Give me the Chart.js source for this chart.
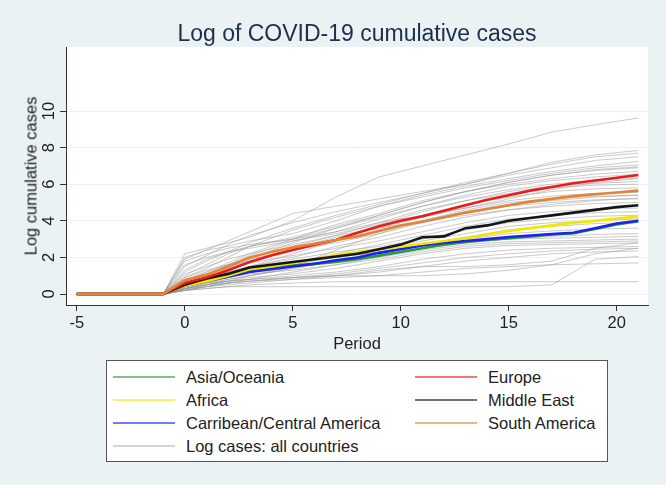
<!DOCTYPE html>
<html>
<head>
<meta charset="utf-8">
<script src="https://cdn.jsdelivr.net/npm/chart.js@4.4.1/dist/chart.umd.min.js"></script>
<style>
  html, body { margin: 0; padding: 0; background: #eaf2f3; }
  #wrap { position: relative; width: 666px; height: 485px; font-family: "Liberation Sans", Arial, sans-serif; color: #222; }
  #c { position: absolute; left: 0; top: 0; }
  .txt { position: absolute; white-space: nowrap; }
  #title { left: 357px; top: 33px; transform: translate(-50%, -50%); font-size: 23px; color: #1e2f4b; }
  #ytitle { left: 31px; top: 176px; transform: translate(-50%, -50%) rotate(-90deg); font-size: 16.5px; }
  #xtitle { left: 357px; top: 343px; transform: translate(-50%, -50%); font-size: 16.5px; }
  #legend { position: absolute; left: 106px; top: 360px; width: 500px; height: 100px; background: #fff; border: 1.5px solid #555; }
  .sw { position: absolute; height: 2px; width: 62px; opacity: 0.6; }
  .lt { position: absolute; font-size: 16.5px; transform: translateY(-50%); }
</style>
</head>
<body>
<div id="wrap">
  <canvas id="c" width="666" height="485"></canvas>
  <div id="title" class="txt">Log of COVID-19 cumulative cases</div>
  <div id="ytitle" class="txt">Log cumulative cases</div>
  <div id="xtitle" class="txt">Period</div>
  <div id="legend"></div>
</div>
<script>
// Periodos (eje X) para las series regionales
const periods = [-5, -4, -3, -2, -1, 0, 1, 2, 3, 4, 5, 6, 7, 8, 9, 10, 11, 12, 13, 14, 15, 16, 17, 18, 19, 20, 21];

// Log de casos acumulados por región
const asiaOceania = [0, 0, 0, 0, 0, 0.5, 0.75, 1.0, 1.3, 1.45, 1.55, 1.65, 1.75, 1.9, 2.1, 2.3, 2.5, 2.7, 2.85, 2.95, 3.05, 3.15, 3.25, 3.32, 3.55, 3.8, 3.98];
const africa = [0, 0, 0, 0, 0, 0.45, 0.7, 1.0, 1.35, 1.5, 1.7, 1.9, 2.15, 2.3, 2.45, 2.6, 2.75, 2.9, 3.05, 3.25, 3.45, 3.6, 3.75, 3.9, 4.0, 4.12, 4.23];
const carribean = [0, 0, 0, 0, 0, 0.45, 0.7, 0.95, 1.2, 1.35, 1.5, 1.65, 1.85, 2.0, 2.25, 2.45, 2.65, 2.8, 2.9, 3.0, 3.12, 3.2, 3.28, 3.35, 3.6, 3.85, 4.0];
const europe = [0, 0, 0, 0, 0, 0.6, 0.9, 1.3, 1.75, 2.1, 2.4, 2.7, 2.95, 3.35, 3.7, 4.0, 4.25, 4.55, 4.85, 5.15, 5.4, 5.65, 5.85, 6.05, 6.2, 6.35, 6.5];
const middleEast = [0, 0, 0, 0, 0, 0.5, 0.85, 1.1, 1.45, 1.6, 1.75, 1.9, 2.05, 2.2, 2.45, 2.7, 3.1, 3.15, 3.6, 3.75, 4.0, 4.15, 4.3, 4.45, 4.6, 4.75, 4.85];
const southAmerica = [0, 0, 0, 0, 0, 0.75, 1.05, 1.5, 2.0, 2.3, 2.55, 2.75, 2.95, 3.15, 3.45, 3.75, 3.95, 4.2, 4.45, 4.65, 4.85, 5.05, 5.2, 5.35, 5.45, 5.55, 5.65];

const countryPeriods = [-5, -1, 0, 1, 2, 3, 5, 7, 9, 11, 13, 15, 17, 19, 21];
const allCountries = [
  [0, 0, 2.2, 2.5, 2.8, 3.1, 4.0, 5.3, 6.4, 7.0, 7.6, 8.2, 8.85, 9.25, 9.62],
  [0, 0, 1.9, 2.4, 2.9, 3.4, 4.4, 4.8, 5.2, 5.6, 6.0, 6.6, 7.2, 7.6, 7.85],
  [0, 0, 1.5, 2.1, 2.7, 3.2, 3.9, 4.5, 5.0, 5.5, 6.1, 6.6, 7.1, 7.5, 7.7],
  [0, 0, 1.2, 1.8, 2.3, 2.8, 3.6, 4.3, 4.9, 5.5, 6.0, 6.5, 6.9, 7.3, 7.5],
  [0, 0, 2.0, 2.4, 2.6, 2.9, 3.3, 4.0, 4.8, 5.4, 5.9, 6.3, 6.7, 7.0, 7.25],
  [0, 0, 0.9, 1.4, 2.0, 2.6, 3.5, 4.2, 4.8, 5.3, 5.8, 6.2, 6.6, 6.9, 7.05],
  [0, 0, 1.0, 1.6, 2.2, 2.6, 3.1, 3.7, 4.3, 5.0, 5.6, 6.1, 6.5, 6.75, 6.9],
  [0, 0, 0.7, 1.2, 1.7, 2.2, 3.0, 3.8, 4.4, 5.1, 5.6, 6.0, 6.3, 6.55, 6.7],
  [0, 0, 1.3, 1.9, 2.3, 2.6, 3.0, 3.4, 4.1, 4.8, 5.4, 5.9, 6.2, 6.4, 6.55],
  [0, 0, 0.5, 0.9, 1.4, 1.9, 2.8, 3.6, 4.2, 4.8, 5.3, 5.7, 6.0, 6.2, 6.35],
  [0, 0, 1.6, 2.0, 2.3, 2.5, 2.9, 3.3, 3.8, 4.5, 5.1, 5.6, 5.9, 6.05, 6.15],
  [0, 0, 0.8, 1.2, 1.6, 2.0, 2.6, 3.2, 3.9, 4.6, 5.1, 5.5, 5.8, 5.95, 6.0],
  [0, 0, 0.6, 1.0, 1.5, 1.8, 2.4, 3.0, 3.7, 4.3, 4.9, 5.3, 5.6, 5.75, 5.8],
  [0, 0, 1.1, 1.5, 1.9, 2.2, 2.7, 3.2, 3.6, 4.2, 4.7, 5.1, 5.35, 5.5, 5.55],
  [0, 0, 0.4, 0.8, 1.1, 1.5, 2.2, 2.9, 3.5, 4.0, 4.6, 5.0, 5.2, 5.35, 5.4],
  [0, 0, 0.9, 1.3, 1.6, 1.9, 2.4, 2.8, 3.3, 3.9, 4.4, 4.8, 5.0, 5.15, 5.2],
  [0, 0, 0.5, 0.9, 1.2, 1.5, 2.0, 2.6, 3.1, 3.7, 4.2, 4.6, 4.8, 4.95, 5.0],
  [0, 0, 0.7, 1.1, 1.4, 1.7, 2.1, 2.5, 2.9, 3.4, 3.9, 4.3, 4.5, 4.65, 4.7],
  [0, 0, 0.3, 0.6, 0.9, 1.2, 1.7, 2.2, 2.7, 3.2, 3.7, 4.1, 4.3, 4.45, 4.5],
  [0, 0, 0.6, 0.9, 1.2, 1.5, 1.9, 2.3, 2.6, 3.0, 3.5, 3.9, 4.1, 4.25, 4.3],
  [0, 0, 0.4, 0.7, 1.0, 1.3, 1.7, 2.1, 2.5, 2.9, 3.3, 3.7, 3.9, 4.0, 4.1],
  [0, 0, 0.2, 0.5, 0.8, 1.0, 1.4, 1.8, 2.3, 2.7, 3.1, 3.5, 3.7, 3.85, 3.9],
  [0, 0, 0.5, 0.8, 1.0, 1.3, 1.6, 2.0, 2.3, 2.7, 3.0, 3.3, 3.45, 3.55, 3.6],
  [0, 0, 0.3, 0.6, 0.8, 1.0, 1.4, 1.8, 2.1, 2.5, 2.8, 3.0, 3.15, 3.25, 3.3],
  [0, 0, 0.7, 1.0, 1.2, 1.4, 1.7, 2.0, 2.3, 2.6, 2.8, 3.0, 3.05, 3.1, 3.15],
  [0, 0, 0.2, 0.4, 0.6, 0.8, 1.2, 1.6, 2.0, 2.4, 2.7, 2.85, 2.9, 2.95, 3.0],
  [0, 0, 0.4, 0.7, 0.9, 1.1, 1.3, 1.6, 1.9, 2.3, 2.6, 2.75, 2.8, 2.85, 2.9],
  [0, 0, 0.3, 0.5, 0.7, 0.9, 1.1, 1.4, 1.8, 2.2, 2.5, 2.65, 2.7, 2.75, 2.8],
  [0, 0, 0.4, 0.6, 0.7, 0.8, 1.0, 1.2, 1.5, 1.9, 2.2, 2.4, 2.5, 2.55, 2.6],
  [0, 0, 0.2, 0.4, 0.6, 0.7, 0.9, 1.1, 1.4, 1.7, 2.0, 2.2, 2.35, 2.45, 2.5],
  [0, 0, 0.3, 0.5, 0.6, 0.7, 0.9, 1.0, 1.2, 1.5, 1.8, 2.0, 2.2, 2.3, 2.35],
  [0, 0, 0.2, 0.3, 0.4, 0.4, 0.4, 0.4, 0.4, 0.4, 0.4, 0.4, 0.5, 1.9, 2.05],
  [0, 0, 0.3, 0.4, 0.5, 0.6, 0.8, 0.9, 1.0, 1.2, 1.4, 1.5, 1.6, 1.65, 1.7],
  [0, 0, 0.2, 0.3, 0.4, 0.5, 0.6, 0.67, 0.67, 0.67, 0.67, 0.67, 0.67, 0.67, 0.67],
  [0, 0, 0.3, 0.5, 0.7, 1.0, 1.5, 2.4, 3.3, 4.0, 4.5, 4.9, 5.1, 5.3, 5.4],
  [0, 0, 1.8, 2.2, 2.5, 2.7, 3.0, 3.6, 4.3, 5.0, 5.6, 6.1, 6.5, 6.8, 6.95],
  [0, 0, 0.4, 0.8, 1.3, 1.8, 2.5, 3.1, 3.6, 4.0, 4.3, 4.6, 4.9, 5.1, 5.25],
  [0, 0, 0.5, 1.0, 1.6, 2.1, 2.9, 3.4, 3.9, 4.3, 4.7, 5.2, 5.7, 6.1, 6.3],
  [0, 0, 0.3, 0.5, 0.7, 0.8, 0.9, 1.0, 1.0, 1.0, 1.1, 1.3, 1.6, 2.2, 2.5],
  [0, 0, 0.2, 0.4, 0.6, 0.7, 0.8, 1.0, 1.3, 1.5, 1.5, 1.6, 1.8, 2.5, 2.8]
];

// Marcas de los ejes
const xTicks = [-5, 0, 5, 10, 15, 20];
const yTicks = [0, 2, 4, 6, 8, 10];

// Regiones: etiqueta, datos y color (orden de la leyenda)
const regions = [
  { label: 'Asia/Oceania', data: asiaOceania, color: '#2a9a3c' },
  { label: 'Africa', data: africa, color: '#f0e800' },
  { label: 'Carribean/Central America', data: carribean, color: '#1c22ee' },
  { label: 'Europe', data: europe, color: '#f01818' },
  { label: 'Middle East', data: middleEast, color: '#151515' },
  { label: 'South America', data: southAmerica, color: '#e28434' }
];
const greyLabel = 'Log cases: all countries';
const greyColor = 'rgba(150, 150, 150, 0.5)';

// Orden de dibujo: el primero queda encima
const drawOrder = ['South America', 'Europe', 'Middle East', 'Africa', 'Carribean/Central America', 'Asia/Oceania'];

const datasets = [];
drawOrder.forEach(name => {
  const r = regions.find(g => g.label === name);
  datasets.push({
    label: r.label,
    data: periods.map((p, i) => ({ x: p, y: r.data[i] })),
    borderColor: r.color,
    borderWidth: 2.6,
    pointRadius: 0,
    tension: 0
  });
});
allCountries.forEach((vals, k) => {
  datasets.push({
    label: greyLabel + ' ' + k,
    data: countryPeriods.map((p, i) => ({ x: p, y: vals[i] })),
    borderColor: greyColor,
    borderWidth: 1,
    pointRadius: 0,
    tension: 0
  });
});

const FONT = '"Liberation Sans", Arial, sans-serif';

// Fondo blanco del área del gráfico y etiquetas Y giradas
const plotBg = {
  id: 'plotBg',
  beforeDraw(chart) {
    const { ctx, chartArea: a } = chart;
    ctx.save();
    ctx.fillStyle = '#eaf2f3';
    ctx.fillRect(0, 0, chart.width, chart.height);
    ctx.fillStyle = '#ffffff';
    ctx.fillRect(a.left, a.top, a.right - a.left, a.bottom - a.top);
    ctx.restore();
  },
  afterDraw(chart) {
    const { ctx } = chart;
    const s = chart.scales.y;
    ctx.save();
    ctx.font = '16.5px ' + FONT;
    ctx.fillStyle = '#222';
    ctx.textAlign = 'center';
    ctx.textBaseline = 'middle';
    s.ticks.forEach(t => {
      const y = s.getPixelForValue(t.value);
      ctx.save();
      ctx.translate(s.right - 17, y);
      ctx.rotate(-Math.PI / 2);
      ctx.fillText(String(t.value), 0, 0);
      ctx.restore();
    });
    ctx.restore();
  }
};

new Chart(document.getElementById('c').getContext('2d'), {
  type: 'line',
  data: { datasets },
  plugins: [plotBg],
  options: {
    responsive: false,
    animation: false,
    layout: { padding: { left: 0, top: 47, right: 18, bottom: 0 } },
    plugins: { legend: { display: false }, tooltip: { enabled: false }, title: { display: false } },
    scales: {
      x: {
        type: 'linear',
        min: -5.5,
        max: 21.45,
        afterBuildTicks: s => { s.ticks = xTicks.map(v => ({ value: v })); },
        afterFit: s => { s.height = 180; },
        grid: { drawOnChartArea: false, drawTicks: true, tickLength: 6, tickColor: '#333' },
        border: { display: true, color: '#333', width: 1 },
        ticks: { color: '#222', font: { family: FONT, size: 16.5 }, padding: 3, maxRotation: 0 }
      },
      y: {
        type: 'linear',
        min: -0.6,
        max: 13.5,
        afterBuildTicks: s => { s.ticks = yTicks.map(v => ({ value: v })); },
        afterFit: s => { s.width = 66; },
        grid: { color: '#edf1f3', lineWidth: 1, drawTicks: true, tickLength: 6, tickColor: '#333' },
        border: { display: true, color: '#333', width: 1 },
        ticks: { display: false }
      }
    }
  }
});

// Leyenda en dos columnas dentro de un recuadro
const legendEl = document.getElementById('legend');
const legendItems = [
  { label: 'Asia/Oceania', col: 0, row: 0 },
  { label: 'Africa', col: 0, row: 1 },
  { label: 'Carribean/Central America', col: 0, row: 2 },
  { label: greyLabel, col: 0, row: 3 },
  { label: 'Europe', col: 1, row: 0 },
  { label: 'Middle East', col: 1, row: 1 },
  { label: 'South America', col: 1, row: 2 }
];
legendItems.forEach(it => {
  const r = regions.find(g => g.label === it.label);
  const color = r ? r.color : '#bbbbbb';
  const y = 16 + it.row * 23;
  const sx = it.col === 0 ? 6 : 308;
  const tx = it.col === 0 ? 79 : 381;
  const sw = document.createElement('div');
  sw.className = 'sw';
  sw.style.left = sx + 'px';
  sw.style.top = (y - 1) + 'px';
  sw.style.background = color;
  legendEl.appendChild(sw);
  const t = document.createElement('div');
  t.className = 'lt txt';
  t.style.left = tx + 'px';
  t.style.top = y + 'px';
  t.textContent = it.label;
  legendEl.appendChild(t);
});
</script>
</body>
</html>
